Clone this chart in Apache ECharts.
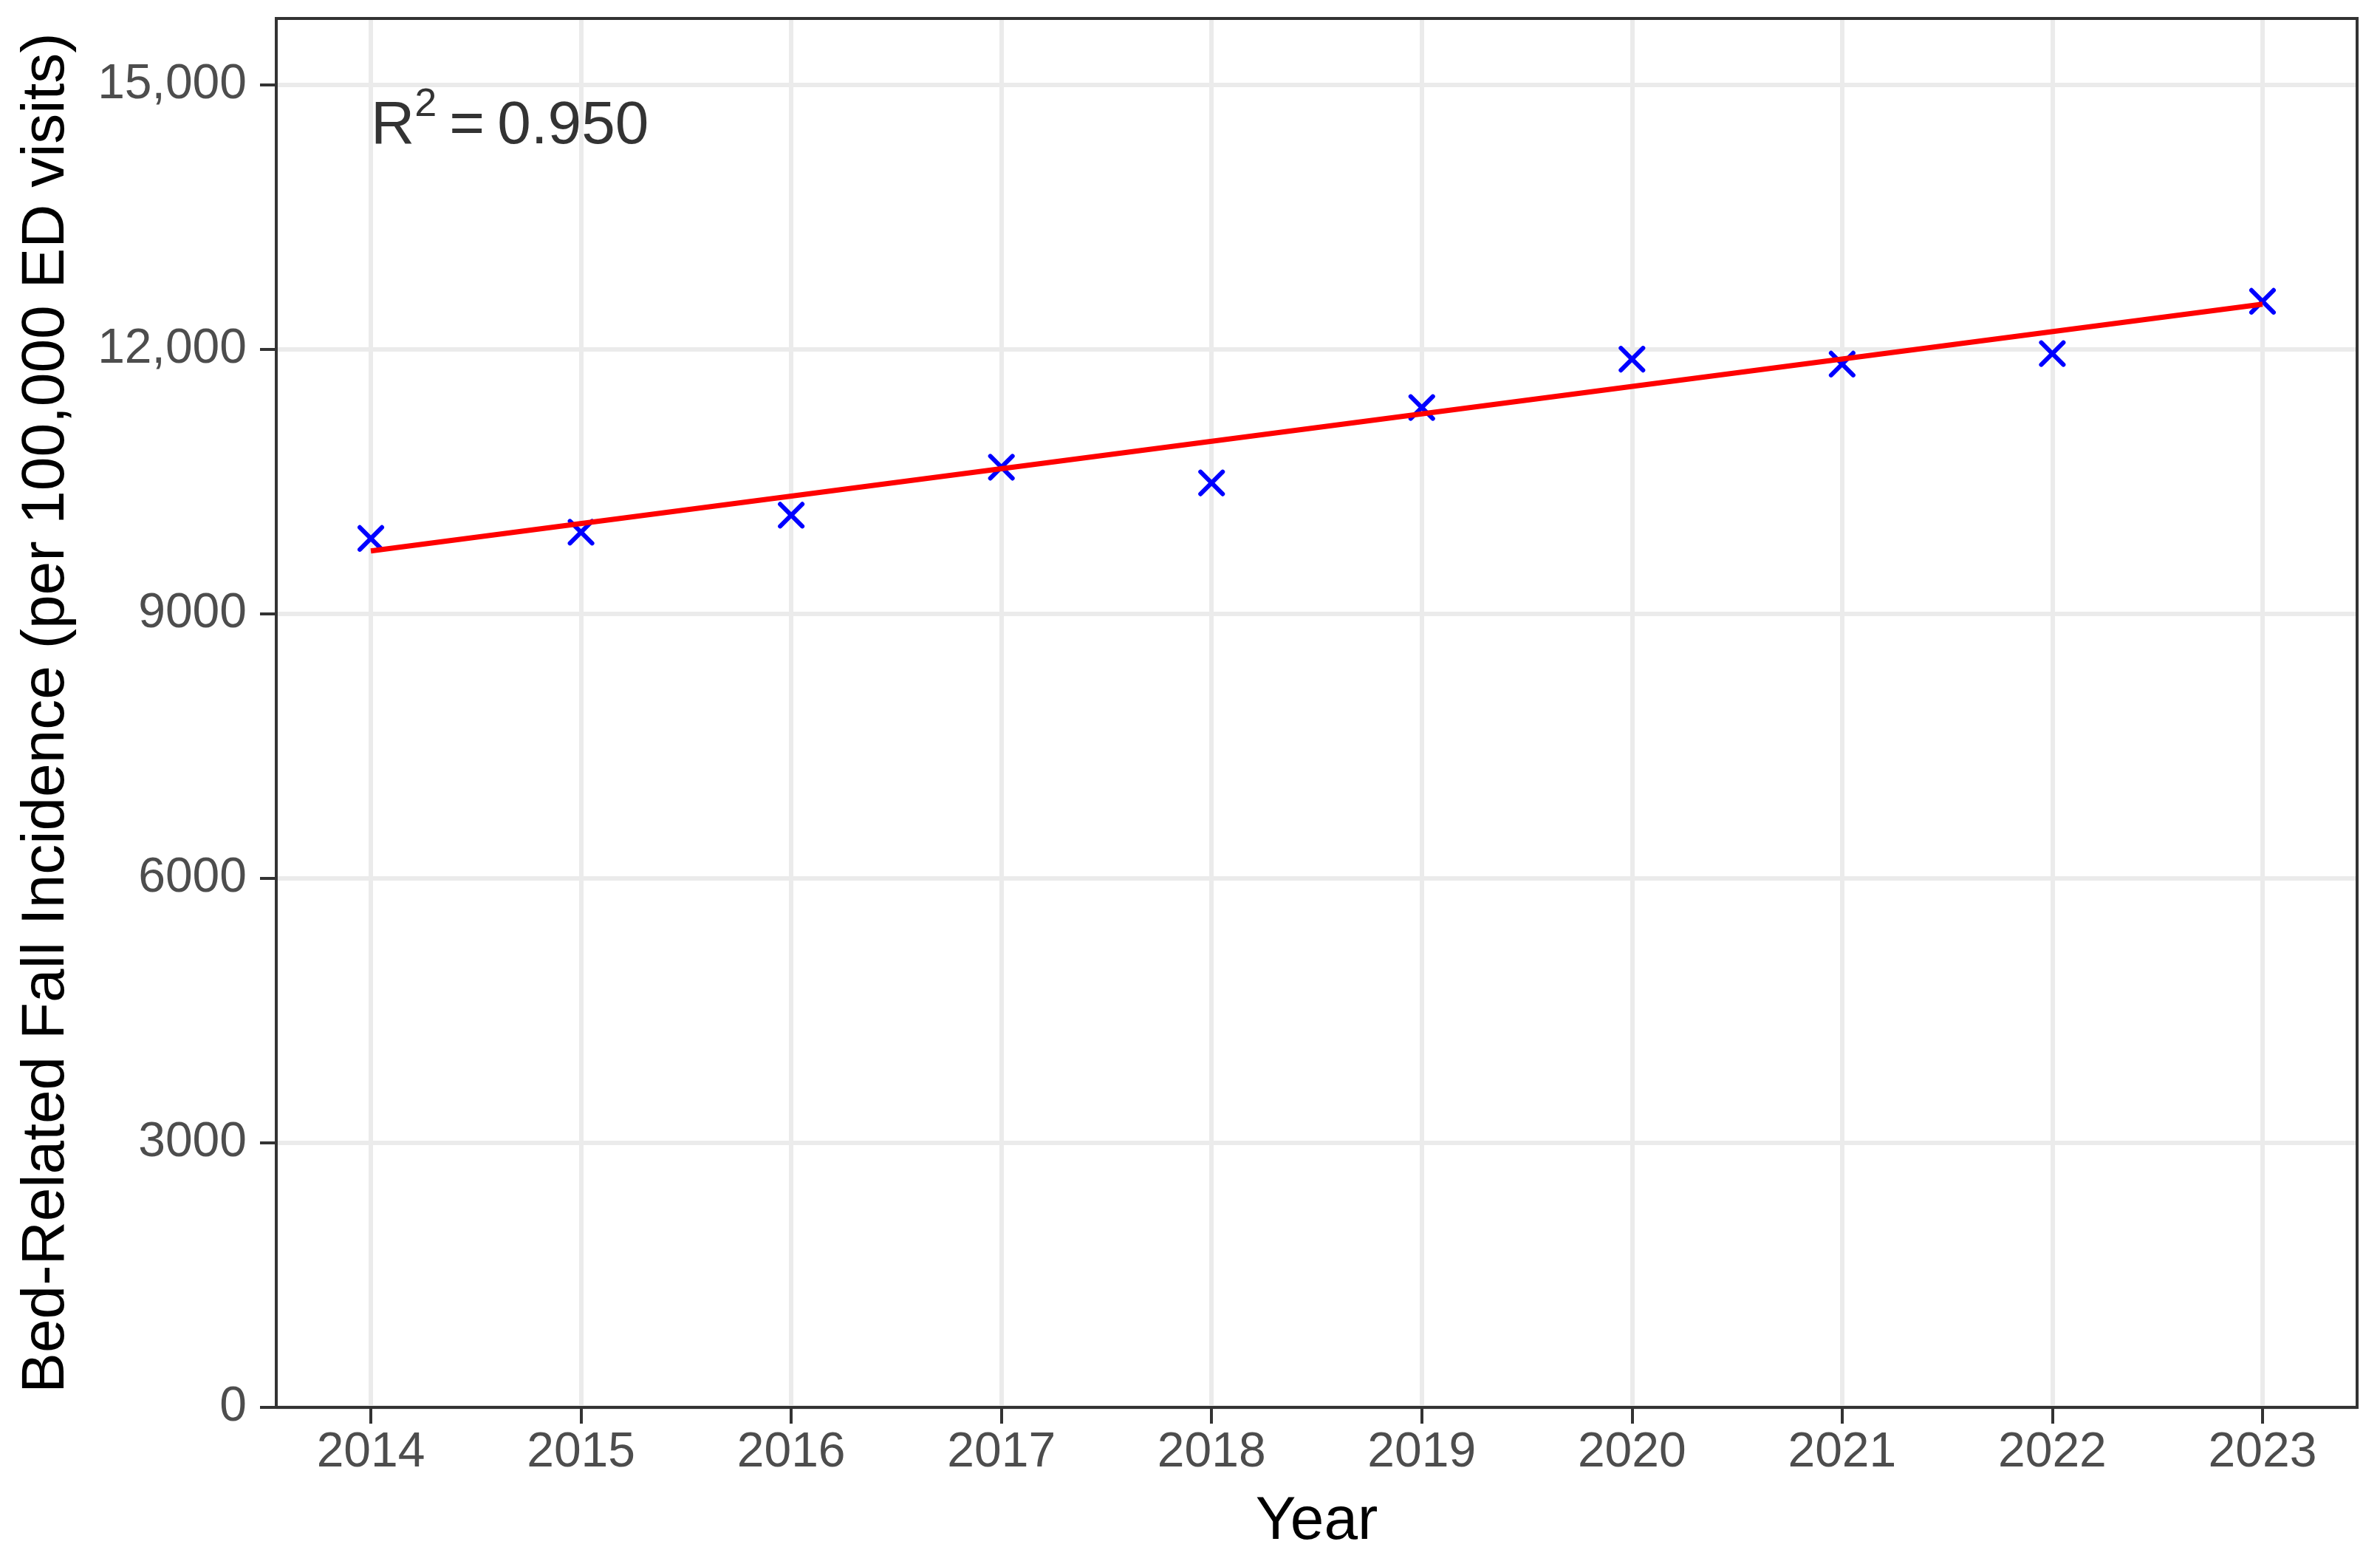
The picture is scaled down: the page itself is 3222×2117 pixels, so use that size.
<!DOCTYPE html>
<html>
<head>
<meta charset="utf-8">
<script src="https://cdn.jsdelivr.net/npm/echarts@6/dist/echarts.min.js"></script>
<style>
  html, body { margin: 0; padding: 0; background: #ffffff; }
  #chart { width: 3222px; height: 2117px; }
</style>
</head>
<body>
<div id="chart"></div>
<script>
// ---- data ----
const years = [2014, 2015, 2016, 2017, 2018, 2019, 2020, 2021, 2022, 2023];
const incidence = [9854, 9924, 10118, 10661, 10483, 11338, 11886, 11831, 11950, 12543];
const trendYears = [2014, 2023];
const trendValues = [9712, 12510];
const yTickValues = [0, 3000, 6000, 9000, 12000, 15000];
const yTickLabels = ['0', '3000', '6000', '9000', '12,000', '15,000'];
const xTitle = 'Year';
const yTitle = 'Bed-Related Fall Incidence (per 100,000 ED visits)';
const annotationPos = [2014, 14520];
const annotationParts = ['R', '2', '=', '0.950'];

const FONT = '"Liberation Sans", Arial, Helvetica, sans-serif';
const X_MIN = 2013.55, X_MAX = 2023.45;
const Y_MIN = 0, Y_MAX = 15750;
const BORDER = '#333333';

const chart = echarts.init(document.getElementById('chart'), null, { renderer: 'canvas' });

const borderAxisCommon = {
  z: 20,
  axisLine: { show: true, onZero: false, lineStyle: { color: BORDER, width: 4, cap: 'square' } },
  axisTick: { show: false },
  axisLabel: { show: false },
  splitLine: { show: false }
};

const option = {
  animation: false,
  backgroundColor: '#ffffff',
  grid: { left: 374, right: 31, top: 25, bottom: 212, containLabel: false },
  xAxis: [
    {
      type: 'value', min: X_MIN, max: X_MAX, position: 'bottom', z: 20,
      name: xTitle, nameLocation: 'middle', nameGap: 114,
      nameTextStyle: { fontFamily: FONT, fontSize: 82, color: '#000000', lineHeight: 82 },
      axisLine: { show: true, onZero: false, lineStyle: { color: BORDER, width: 4, cap: 'square' } },
      axisTick: { show: true, customValues: years, length: 22, lineStyle: { color: BORDER, width: 4 } },
      axisLabel: {
        show: true, customValues: years, margin: 29,
        fontFamily: FONT, fontSize: 66, lineHeight: 66, color: '#4D4D4D',
        formatter: v => String(v)
      },
      splitLine: { show: false }
    },
    Object.assign({ type: 'value', min: X_MIN, max: X_MAX, position: 'top' }, borderAxisCommon)
  ],
  yAxis: [
    {
      type: 'value', min: Y_MIN, max: Y_MAX, position: 'left', z: 20,
      name: yTitle, nameLocation: 'middle', nameGap: 270,
      nameTextStyle: { fontFamily: FONT, fontSize: 82, color: '#000000', lineHeight: 82 },
      axisLine: { show: true, onZero: false, lineStyle: { color: BORDER, width: 4, cap: 'square' } },
      axisTick: { show: true, customValues: yTickValues, length: 22, lineStyle: { color: BORDER, width: 4 } },
      axisLabel: {
        show: true, customValues: yTickValues, margin: 40,
        fontFamily: FONT, fontSize: 66, lineHeight: 66, color: '#4D4D4D',
        formatter: v => { const i = yTickValues.indexOf(v); return i >= 0 ? yTickLabels[i] : ''; }
      },
      splitLine: { show: false }
    },
    Object.assign({ type: 'value', min: Y_MIN, max: Y_MAX, position: 'right' }, borderAxisCommon)
  ],
  series: [
    {
      // background gridlines
      type: 'line', data: [], silent: true, z: 1,
      markLine: {
        silent: true, symbol: ['none', 'none'], z: 1,
        label: { show: false },
        emphasis: { disabled: true },
        lineStyle: { color: '#EBEBEB', width: 6, type: 'solid' },
        data: years.map(y => ({ xAxis: y })).concat(yTickValues.map(v => ({ yAxis: v })))
      }
    },
    {
      type: 'scatter', z: 10,
      data: years.map((y, i) => [y, incidence[i]]),
      symbol: 'path://M0,0L10,10M10,0L0,10',
      symbolSize: 30,
      itemStyle: { color: 'rgba(0,0,0,0)', borderColor: '#0000FF', borderWidth: 6, borderCap: 'round', opacity: 1 },
      emphasis: { disabled: true }
    },
    {
      type: 'line', z: 11,
      data: trendYears.map((y, i) => [y, trendValues[i]]),
      symbol: 'none',
      lineStyle: { color: '#FF0000', width: 7 },
      emphasis: { disabled: true }
    },
    {
      type: 'scatter', z: 12, silent: true,
      data: [annotationPos],
      symbolSize: 0,
      label: {
        show: true, position: 'right', distance: 0, color: '#000000',
        formatter: '{r|' + annotationParts[0] + '}{s|' + annotationParts[1] + '}{g| }{r|' +
                   annotationParts[2] + '}{g| }{r|' + annotationParts[3] + '}',
        rich: {
          r: { fontFamily: FONT, fontSize: 82, lineHeight: 114, color: '#000000' },
          s: { fontFamily: FONT, fontSize: 54, lineHeight: 54, color: '#000000', verticalAlign: 'top' },
          g: { fontFamily: FONT, fontSize: 82, lineHeight: 114, width: 17 }
        }
      }
    }
  ]
};

chart.setOption(option);
</script>
</body>
</html>
